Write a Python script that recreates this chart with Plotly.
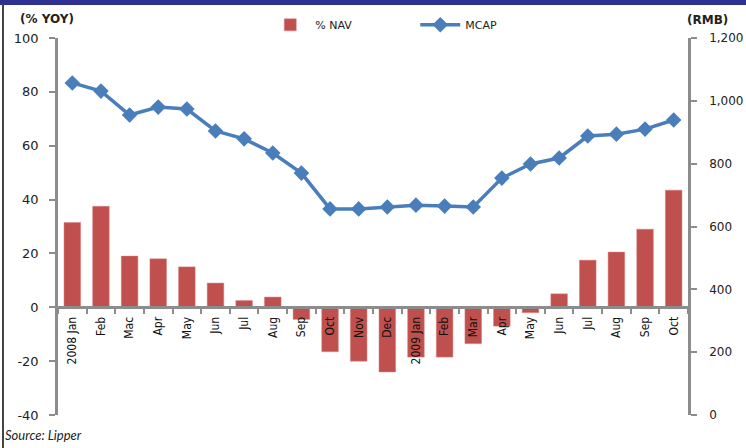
import plotly.graph_objects as go

# Mjeseci (jan 2008 - okt 2009)
labels = ["2008 Jan", "Feb", "Mac", "Apr", "May", "Jun", "Jul", "Aug", "Sep", "Oct", "Nov",
          "Dec", "2009 Jan", "Feb", "Mar", "Apr", "May", "Jun", "Jul", "Aug", "Sep", "Oct"]
x_pos = list(range(len(labels)))

# % NAV (lijeva os, % YOY)
nav = [31.5, 37.5, 19, 18, 15, 9, 2.5, 3.8, -4.5, -16.5, -20,
       -24, -18.5, -18.5, -13.5, -7, -2, 5, 17.5, 20.5, 29, 43.5]

# MCAP (desna os, RMB)
mcap = [1057, 1031, 955, 980, 974, 904, 879, 834, 770, 656, 656,
        662, 668, 665, 662, 754, 799, 818, 888, 894, 910, 939]

left_ticks = [-40, -20, 0, 20, 40, 60, 80, 100]
left_tick_text = ["-40", "-20", "0", "20", "40", "60", "80", "100"]
right_ticks = [0, 200, 400, 600, 800, 1000, 1200]
right_tick_text = ["0", "200", "400", "600", "800", "1,000", "1,200"]

AXIS_GRAY = "#8c8c8c"
FONT = "DejaVu Sans"

fig = go.Figure()

fig.add_trace(go.Bar(
    x=x_pos, y=nav, name="% NAV",
    marker=dict(color="#C0504D", line=dict(color="#D98080", width=0.5)),
    width=0.58,
))

fig.add_trace(go.Scatter(
    x=x_pos, y=mcap, name="MCAP", yaxis="y2",
    mode="lines+markers",
    line=dict(color="#4A7EBB", width=3.5),
    marker=dict(symbol="diamond", size=12, color="#4A7EBB"),
))

fig.update_layout(
    width=746, height=448,
    margin=dict(l=58, r=58, t=38, b=33, autoexpand=False),
    paper_bgcolor="white", plot_bgcolor="white",
    font=dict(family=FONT, size=12, color="#222"),
    showlegend=True,
    legend=dict(orientation="h", x=0.329, y=1.035, xanchor="left", yanchor="middle",
                font=dict(family=FONT, size=11, color="#222"),
                bgcolor="rgba(0,0,0,0)", entrywidth=95, itemwidth=40),
    xaxis=dict(
        range=[-0.5, len(labels) - 0.5],
        tickvals=x_pos, ticktext=labels, tickangle=-90,
        ticks="", showgrid=False, zeroline=False,
        showline=True, linecolor=AXIS_GRAY, linewidth=2.5,
        anchor="free", position=40 / 140,
        ticklabelstandoff=3,
        tickfont=dict(family="DejaVu Sans Condensed", size=12, color="#111"),
        minor=dict(ticks="outside", tick0=0.5, dtick=1, ticklen=5,
                   tickwidth=2, tickcolor=AXIS_GRAY),
    ),
    yaxis=dict(
        range=[-40, 100], tickvals=left_ticks, ticktext=left_tick_text,
        showgrid=False, zeroline=False,
        showline=True, linecolor=AXIS_GRAY, linewidth=2.5,
        ticks="outside", ticklen=6, tickwidth=2, tickcolor=AXIS_GRAY,
        ticklabelstandoff=8,
        tickfont=dict(size=13, color="#222"),
    ),
    yaxis2=dict(
        range=[0, 1200], tickvals=right_ticks, ticktext=right_tick_text,
        overlaying="y", side="right",
        showgrid=False, zeroline=False,
        showline=True, linecolor=AXIS_GRAY, linewidth=2.5,
        ticks="outside", ticklen=6, tickwidth=2, tickcolor=AXIS_GRAY,
        ticklabelstandoff=10,
        tickfont=dict(size=12, color="#222"),
    ),
)

# naslovi osi i izvor
fig.add_annotation(text="<b>(% YOY)</b>", xref="paper", yref="paper",
                   x=-0.0635, y=1.05, xanchor="left", yanchor="middle",
                   showarrow=False, font=dict(size=12, color="#222"))
fig.add_annotation(text="<b>(RMB)</b>", xref="paper", yref="paper",
                   x=0.9952, y=1.048, xanchor="left", yanchor="middle",
                   showarrow=False, font=dict(size=12, color="#222"))
fig.add_annotation(text="<i>Source: Lipper</i>", xref="paper", yref="paper",
                   x=-0.088, y=-0.053, xanchor="left", yanchor="middle",
                   showarrow=False, font=dict(family="Lato", size=13, color="#222"))

# okvir: tamnoplava traka gore i lijevi rub
fig.add_shape(type="rect", xref="paper", yref="paper",
              x0=-0.1, x1=1.1, y0=1.0875, y1=1.11,
              fillcolor="#2E3192", line=dict(width=0), layer="above")
fig.add_shape(type="line", xref="paper", yref="paper",
              x0=-0.0873, x1=-0.0873, y0=-0.09, y1=1.09,
              line=dict(color="#444", width=2))

# bez margine stranice, da slika krene od gornjeg lijevog kuta
fig.write_html("out.html", config={"displayModeBar": False},
               post_script="document.body.style.margin='0';")
